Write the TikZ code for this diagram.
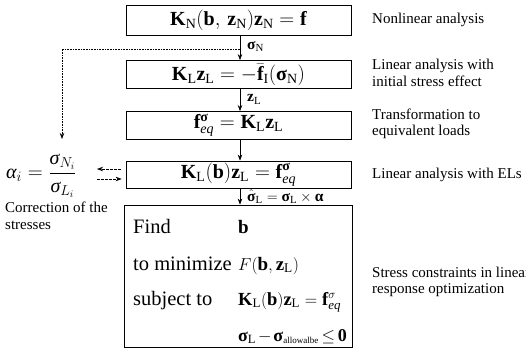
\documentclass[tikz,border=0pt]{standalone}
\usepackage{amsmath}
\usepackage{fontspec}
\setmainfont{Liberation Serif}
\usetikzlibrary{arrows.meta}
\newcommand{\bsig}{\text{\textbf{σ}}}
\newcommand{\balp}{\text{\textbf{α}}}
\begin{document}
\begin{tikzpicture}[x=1pt,y=-1pt,
  eqbox/.style={draw,line width=0.8pt,minimum width=225pt,inner sep=0pt,font=\fontsize{20}{24}\selectfont},
  side/.style={anchor=west,align=left,inner sep=0pt,font=\fontsize{15}{16.5}\selectfont},
  opt/.style={anchor=base west,inner sep=0pt,font=\fontsize{20.5}{24}\selectfont},
  optm/.style={anchor=base west,inner sep=0pt,font=\fontsize{19}{24}\selectfont},
  flow/.style={-{Stealth[length=6pt,width=4.5pt]},line width=0.6pt},
  lab/.style={anchor=west,inner sep=0pt,font=\fontsize{15.5}{18}\selectfont}]
\useasboundingbox (0,0) rectangle (526,349);
% boxes
\node[eqbox,minimum height=30pt] (b1) at (238.5,20) {$\mathbf{K}_{\mathrm{N}}(\mathbf{b},\,\mathbf{z}_{\mathrm{N}})\mathbf{z}_{\mathrm{N}} = \mathbf{f}$};
\node[eqbox,minimum height=28pt] (b2) at (238.5,74.5) {$\mathbf{K}_{\mathrm{L}}\mathbf{z}_{\mathrm{L}} = -\bar{\mathbf{f}}_{\mathrm{I}}(\bsig_{\mathrm{N}})$};
\node[eqbox,minimum height=28pt] (b3) at (238.5,125.5) {$\mathbf{f}^{\bsig}_{\mathit{eq}} = \mathbf{K}_{\mathrm{L}}\mathbf{z}_{\mathrm{L}}$};
\node[eqbox,minimum height=27pt] (b4) at (238.5,174.5) {$\mathbf{K}_{\mathrm{L}}(\mathbf{b})\mathbf{z}_{\mathrm{L}} = \mathbf{f}^{\bsig}_{\mathit{eq}}$};
\node[draw,line width=0.8pt,minimum width=228pt,minimum height=142pt,inner sep=0pt] (b5) at (238,276) {};
% optimisation statement
\node[opt] (f1) at (133,233) {Find};
\node[opt] (f2) at (133,270) {to minimize};
\node[opt] (f3) at (133,305) {subject to};
\node[optm] (g1) at (238,233) {$\mathbf{b}$};
\node[optm] (g2) at (238,270) {$F(\mathbf{b},\mathbf{z}_{\mathrm{L}})$};
\node[optm,font=\fontsize{18.5}{24}\selectfont] (g3) at (238,305) {$\mathbf{K}_{\mathrm{L}}(\mathbf{b})\mathbf{z}_{\mathrm{L}} = \mathbf{f}^{\sigma}_{\mathit{eq}}$};
\node[optm,font=\fontsize{18}{22}\selectfont] (g4) at (238,341) {$\medmuskip=2mu\thickmuskip=3mu\bsig_{\mathrm{L}} - \bsig_{\scriptscriptstyle\text{allowalbe}} \leq \mathbf{0}$};
% main flow
\coordinate (ax) at (240,0);
\draw[flow] (b1.south -| ax) -- (b2.north -| ax);
\draw[flow] (b2.south -| ax) -- (b3.north -| ax);
\draw[flow] (b3.south -| ax) -- (b4.north -| ax);
\draw[flow] (b4.south -| ax) -- (b5.north -| ax);
\node[lab] (l1) at (247,46.5) {$\bsig_{\mathrm{N}}$};
\node[lab] (l2) at (247,99.5) {$\mathbf{z}_{\mathrm{L}}$};
\node[lab] (l3) at (247,196.5) {$\hat{\bsig}_{\mathrm{L}} = \bsig_{\mathrm{L}}\times\balp$};
% correction
\node[font=\fontsize{20}{24}\selectfont,inner sep=0pt,anchor=west] (al) at (6,176) {$\textit{α}_i = \dfrac{\textit{σ}_{N_i}}{\textit{σ}_{L_i}}$};
\node[side] (cor) at (5,216) {Correction of the\\stresses};
\coordinate (d0) at (240,49);
\coordinate (d1) at (62,49);
\coordinate (d2) at (62,139);
\draw[flow,densely dotted] (d0) -- (d1) -- (d2);
\coordinate (e1) at (97,169);
\coordinate (e2) at (97,179);
\draw[flow,dash pattern=on 2.5pt off 1.5pt] ([xshift=-5pt]b4.west |- e1) -- (e1);
\draw[flow,dash pattern=on 2.5pt off 1.5pt] (e2) -- ([xshift=-4pt]b4.west |- e2);
% side notes
\node[side] (s1) at (372,20) {Nonlinear analysis};
\node[side] (s2) at (372,73) {Linear analysis with\\initial stress effect};
\node[side] (s3) at (372,124) {Transformation to\\equivalent loads};
\node[side] (s4) at (372,175) {Linear analysis with ELs};
\node[side] (s5) at (372,282) {Stress constraints in linear\\response optimization};
\end{tikzpicture}
\end{document}
